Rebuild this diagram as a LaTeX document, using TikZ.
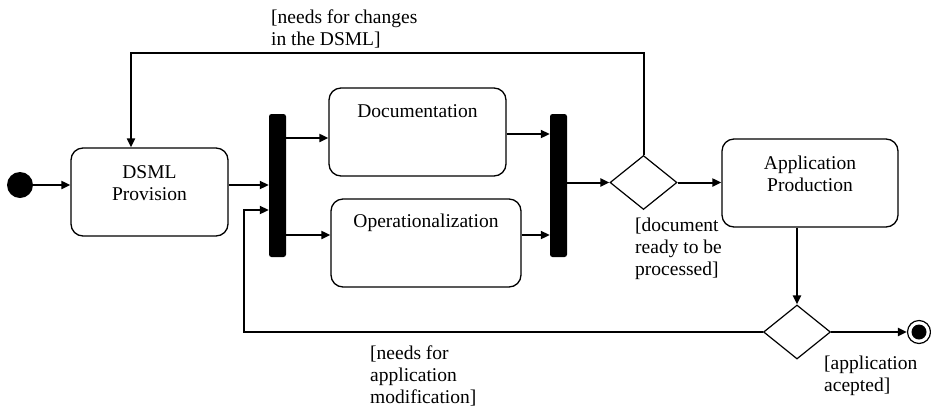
\documentclass[tikz,border=0pt]{standalone}
\usepackage{fontspec}
\setmainfont{Liberation Serif}
\usetikzlibrary{arrows.meta,shapes.geometric}
\begin{document}
\begin{tikzpicture}[x=1pt,y=-1pt,
  font=\fontsize{19.5}{22}\selectfont,
  action/.style={draw, line width=1.3pt, rounded corners=12pt,
    minimum width=#1, minimum height=88pt, inner sep=0pt},
  syncbar/.style={fill=black, rounded corners=2.5pt, minimum width=17pt,
    minimum height=143pt, inner sep=0pt},
  decision/.style={draw, diamond, line width=1.2pt, minimum width=67pt,
    minimum height=54pt, inner sep=0pt},
  flow/.style={line width=2pt, -{Triangle[length=9pt,width=8pt]}},
  wire/.style={line width=2pt},
  guard/.style={align=left, anchor=west, inner sep=0pt},
  caption/.style={align=center, inner sep=0pt}
]
\useasboundingbox (0,0) rectangle (931,408);

% initial and final states
\node[circle, fill=black, minimum size=26pt, inner sep=0pt] (start) at (20,185) {};
\node[circle, draw, line width=1.2pt, minimum size=23pt, inner sep=0pt] (final) at (919,332) {};
\node[circle, fill=black, minimum size=15pt, inner sep=0pt] (finalDot) at (final) {};

% actions
\node[action=157pt] (dsml) at (149.5,192) {};
\node[caption] (dsmlT) at (149.5,183) {DSML\\Provision};
\node[action=177pt] (doc) at (417.5,132) {};
\node[caption] (docT) at (417.5,111) {Documentation};
\node[action=190pt] (oper) at (426,243) {};
\node[caption] (operT) at (426,223) {Operationalization};
\node[action=176pt] (app) at (810,183) {};
\node[caption] (appT) at (810,173.5) {Application\\Production};

% fork / join bars
\node[syncbar] (fork) at (277.5,185.5) {};
\node[syncbar] (join) at (558.5,185.5) {};

% decisions
\node[decision] (dec1) at (643.5,182.5) {};
\node[decision] (dec2) at (797,332) {};

% routing points
\coordinate (topR) at (643.5,53);
\coordinate (topL) at (131,53);
\coordinate (loopB) at (244,332);
\coordinate (loopT) at (244,210);
\coordinate (rowDoc) at (0,138);
\coordinate (rowDocOut) at (0,134);
\coordinate (rowOp) at (0,235);

% control flows
\draw[flow] (start.east) -- (start.east -| dsml.west);
\draw[flow] (dsml.east |- start) -- (fork.west |- start);
\draw[flow] (fork.east |- rowDoc) -- (doc.west |- rowDoc);
\draw[flow] (fork.east |- rowOp) -- (oper.west |- rowOp);
\draw[flow] (doc.east |- rowDocOut) -- (join.west |- rowDocOut);
\draw[flow] (oper.east |- rowOp) -- (join.west |- rowOp);
\draw[flow] (join.east |- dec1) -- (dec1.west);
\draw[flow] (dec1.east) -- (dec1.east -| app.west);
\draw[flow] (dec1.north) -- (topR) -- (topL) -- (topL |- dsml.north);
\draw[flow] (app.south -| dec2) -- (dec2.north);
\draw[flow] (dec2.east) -- (final.west);
\draw[flow] (dec2.west) -- (loopB) -- (loopT) -- (loopT -| fork.west);

% guards
\node[guard] (gChange) at (271,29) {[needs for changes\\in the DSML]};
\node[guard] (gReady) at (635,249) {[document\\ready to be\\processed]};
\node[guard] (gModify) at (370,376) {[needs for\\application\\modification]};
\node[guard] (gAccept) at (824,376) {[application\\acepted]};
\end{tikzpicture}
\end{document}
